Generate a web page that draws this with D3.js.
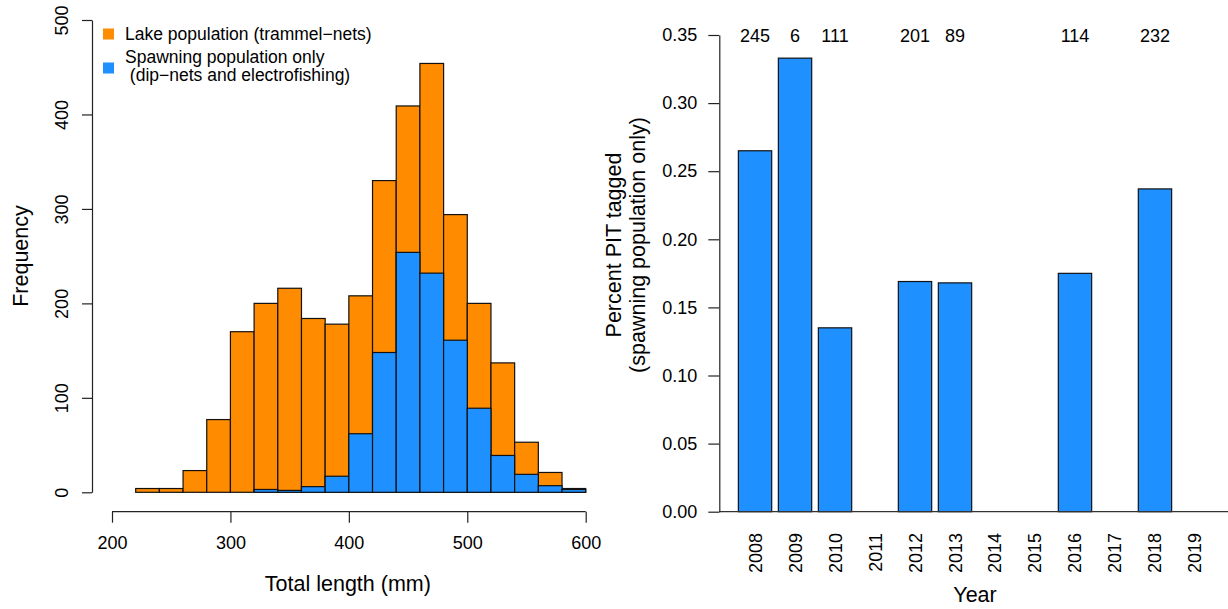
<!DOCTYPE html>
<html>
<head>
<meta charset="utf-8">
<script src="https://cdn.jsdelivr.net/npm/d3@7"></script>
<style>
  body { margin: 0; background: #fff; }
  svg { display: block; font-family: "Liberation Sans", Arial, sans-serif; }
  text { fill: #000; }
</style>
</head>
<body>
<svg width="1228" height="609"></svg>
<script>
// 왼쪽: 전장 히스토그램 (20 mm 구간)
const binStarts = [220, 240, 260, 280, 300, 320, 340, 360, 380, 400, 420, 440, 460, 480, 500, 520, 540, 560, 580];
const lakeCounts = [4, 4, 23, 77, 170, 200, 216, 184, 178, 208, 330, 409, 454, 294, 200, 137, 53, 21, 4];
const spawnCounts = [0, 0, 0, 0, 0, 3, 2, 6, 17, 62, 148, 254, 232, 161, 89, 39, 19, 7, 3];
const binWidth = 20;
const xTicksL = [200, 300, 400, 500, 600];
const yTicksL = [0, 100, 200, 300, 400, 500];

// 오른쪽: 연도별 PIT 태그 비율
const years = ["2008", "2009", "2010", "2011", "2012", "2013", "2014", "2015", "2016", "2017", "2018", "2019"];
const pitPercent = [0.265, 0.333, 0.135, 0, 0.169, 0.168, 0, 0, 0.175, 0, 0.237, 0];
const sampleSizes = [245, 6, 111, null, 201, 89, null, null, 114, null, 232, null];
const yTicksR = [0, 0.05, 0.10, 0.15, 0.20, 0.25, 0.30, 0.35];

const orange = "#ff8c00";
const blue = "#1e90ff";
const svg = d3.select("svg");

// ---------- 왼쪽 차트 ----------
const xL = d3.scaleLinear().domain([200, 600]).range([112, 585.7]);
const yL = d3.scaleLinear().domain([0, 500]).range([492.3, 20]);

const hist = svg.append("g");
hist.selectAll("rect.lake")
  .data(binStarts)
  .join("rect")
  .attr("class", "lake")
  .attr("x", (d) => xL(d))
  .attr("width", (d) => xL(d + binWidth) - xL(d))
  .attr("y", (d, i) => yL(lakeCounts[i]))
  .attr("height", (d, i) => yL(0) - yL(lakeCounts[i]))
  .attr("fill", orange)
  .attr("stroke", "#111")
  .attr("stroke-width", 1.2);

hist.selectAll("rect.spawn")
  .data(binStarts)
  .join("rect")
  .attr("class", "spawn")
  .attr("x", (d) => xL(d))
  .attr("width", (d) => xL(d + binWidth) - xL(d))
  .attr("y", (d, i) => yL(spawnCounts[i]))
  .attr("height", (d, i) => yL(0) - yL(spawnCounts[i]))
  .attr("fill", blue)
  .attr("stroke", "#111")
  .attr("stroke-width", 1.2);

// x축
const xAxisL = svg.append("g")
  .attr("transform", "translate(0,511.7)")
  .call(d3.axisBottom(xL).tickValues(xTicksL).tickSize(11).tickPadding(14).tickSizeOuter(0));
xAxisL.select(".domain").attr("d", `M${xL(200)},0H${xL(600)}`);

// y축
const yAxisL = svg.append("g")
  .attr("transform", "translate(92,0)")
  .call(d3.axisLeft(yL).tickValues(yTicksL).tickSize(10).tickSizeOuter(0));
yAxisL.selectAll(".tick text")
  .attr("x", null).attr("dy", null)
  .attr("text-anchor", "middle")
  .attr("transform", "translate(-24,0) rotate(-90)");

svg.append("text")
  .attr("x", xL(400) - 1)
  .attr("y", 591)
  .attr("text-anchor", "middle")
  .style("font-size", "21.5px")
  .text("Total length (mm)");

svg.append("text")
  .attr("transform", "translate(28,256) rotate(-90)")
  .attr("text-anchor", "middle")
  .style("font-size", "21.5px")
  .text("Frequency");

// 범례
const legend = svg.append("g").style("font-size", "17.5px");
legend.append("rect").attr("x", 103).attr("y", 28.5).attr("width", 11).attr("height", 11).attr("fill", orange);
legend.append("rect").attr("x", 103).attr("y", 62.5).attr("width", 11).attr("height", 11).attr("fill", blue);
legend.append("text").attr("x", 125).attr("y", 40.3).text("Lake population (trammel\u2212nets)");
legend.append("text").attr("x", 125).attr("y", 62.8).text("Spawning population only");
legend.append("text").attr("x", 125).attr("y", 81).style("white-space", "pre").text(" (dip\u2212nets and electrofishing)");

// ---------- 오른쪽 차트 ----------
const xR = d3.scaleBand().domain(years).range([731.7, 1218.3]).paddingInner(1 / 6).paddingOuter(1 / 6);
const yR = d3.scaleLinear().domain([0, 0.35]).range([511.7, 35]);

svg.append("g").selectAll("rect")
  .data(years.filter((y, i) => pitPercent[i] > 0))
  .join("rect")
  .attr("x", (d) => xR(d))
  .attr("width", xR.bandwidth())
  .attr("y", (d) => yR(pitPercent[years.indexOf(d)]))
  .attr("height", (d) => yR(0) - yR(pitPercent[years.indexOf(d)]))
  .attr("fill", blue)
  .attr("stroke", "#111")
  .attr("stroke-width", 1.2);

// 0 기준선
svg.append("line")
  .attr("x1", 719.3).attr("x2", 1228)
  .attr("y1", yR(0)).attr("y2", yR(0))
  .attr("stroke", "#333").attr("stroke-width", 1.2);

const yAxisR = svg.append("g")
  .attr("transform", "translate(719.3,0)")
  .call(d3.axisLeft(yR).tickValues(yTicksR).tickFormat(d3.format(".2f")).tickSize(11).tickPadding(11).tickSizeOuter(0));

// 연도 라벨 (세로)
svg.append("g").selectAll("text")
  .data(years)
  .join("text")
  .attr("transform", (d) => `translate(${xR(d) + xR.bandwidth() / 2 + 6.5},533) rotate(-90)`)
  .attr("text-anchor", "end")
  .style("font-size", "18px")
  .text((d) => d);

// 표본 수
svg.append("g").selectAll("text")
  .data(years.filter((y, i) => sampleSizes[i] !== null))
  .join("text")
  .attr("x", (d) => xR(d) + xR.bandwidth() / 2)
  .attr("y", 41.5)
  .attr("text-anchor", "middle")
  .style("font-size", "18px")
  .text((d) => sampleSizes[years.indexOf(d)]);

svg.append("text")
  .attr("x", 975)
  .attr("y", 601.5)
  .attr("text-anchor", "middle")
  .style("font-size", "21.5px")
  .text("Year");

const yTitle = svg.append("text")
  .attr("transform", "translate(0,245) rotate(-90)")
  .attr("text-anchor", "middle")
  .style("font-size", "21.5px");
yTitle.append("tspan").attr("x", 0).attr("y", 621).text("Percent PIT tagged");
yTitle.append("tspan").attr("x", 0).attr("y", 645).text("(spawning population only)");

// 축 스타일
svg.selectAll(".tick text").style("font-size", "18px").attr("fill", "#000");
svg.selectAll(".domain, .tick line").attr("stroke", "#222").attr("stroke-width", 1.2);
svg.selectAll(".tick text").style("font-family", "'Liberation Sans', Arial, sans-serif");
</script>
</body>
</html>
